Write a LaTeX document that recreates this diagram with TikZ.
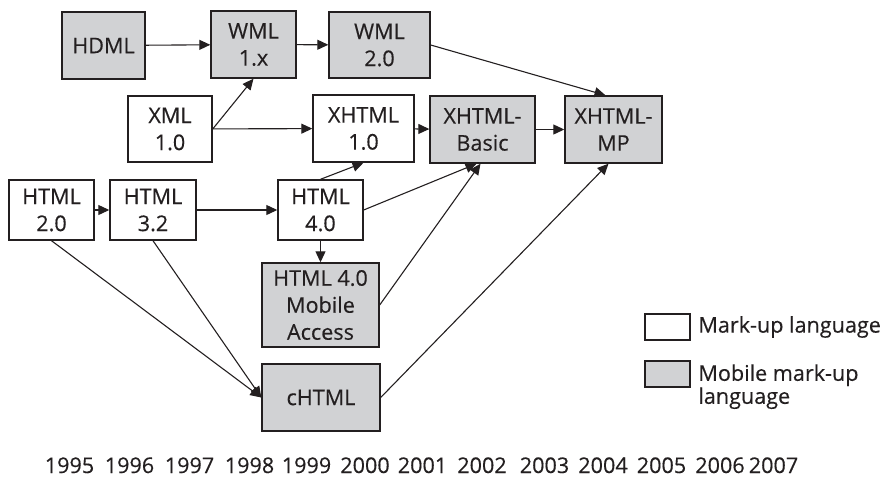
\documentclass[tikz,border=0pt]{standalone}
\usepackage{fontspec}
\setmainfont{Open Sans}[FakeBold=0.35]
\usetikzlibrary{arrows.meta, positioning}
\definecolor{mobgray}{RGB}{209,210,212}
\definecolor{ink}{RGB}{35,31,32}

\begin{document}
\begin{tikzpicture}[x=0.5pt, y=-0.5pt,
  every node/.style={font=\fontsize{10.8}{13.5}\selectfont, text=ink},
  lang/.style={draw=ink, line width=0.7pt, fill=white, align=center, inner sep=0pt},
  mob/.style={lang, fill=mobgray},
  arr/.style={-{Triangle[length=5.5pt, width=5pt]}, draw=ink, line width=0.55pt}
]
\useasboundingbox (0,0) rectangle (885,477);
\node[mob,  minimum width=41.5pt, minimum height=33.5pt] (HDML)  at (103.5,45.5) {HDML};
\node[mob,  minimum width=42.5pt, minimum height=33.5pt] (WMLa)  at (253.5,44.5) {WML\\1.x};
\node[mob,  minimum width=50.5pt, minimum height=33pt]   (WMLb)  at (379.5,45)   {WML\\2.0};
\node[lang, minimum width=42pt,   minimum height=33pt]   (XML)   at (170,129)    {XML\\1.0};
\node[lang, minimum width=50.5pt, minimum height=33.5pt] (XHTML) at (363.5,128.5) {XHTML\\1.0};
\node[mob,  minimum width=52.5pt, minimum height=33.5pt] (XBasic) at (482.5,129.5) {XHTML-\\Basic};
\node[mob,  minimum width=48.5pt, minimum height=33.5pt] (XMP)   at (613.5,129.5) {XHTML-\\MP};
\node[lang, minimum width=42.5pt, minimum height=30pt]   (HTMLa) at (51.5,210)   {HTML\\2.0};
\node[lang, minimum width=43pt,   minimum height=30pt]   (HTMLb) at (153,210)    {HTML\\3.2};
\node[lang, minimum width=42.5pt, minimum height=30pt]   (HTMLc) at (320.5,210)  {HTML\\4.0};
\node[mob,  minimum width=58.5pt, minimum height=42pt]   (HTMLmob) at (320.5,305) {HTML 4.0\\Mobile\\Access};
\node[mob,  minimum width=59pt,   minimum height=33.5pt] (cHTML) at (321,397.5)  {cHTML};

\draw[arr] (HDML) -- (WMLa);
\draw[arr] (WMLa) -- (WMLb);
\draw[arr] (WMLb.east) -- ([xshift=-4pt]XMP.north);
\draw[arr] (XML.east) -- (WMLa.south);
\draw[arr] (XML) -- (XHTML);
\draw[arr] (XHTML) -- (XBasic);
\draw[arr] (XBasic) -- (XMP);
\draw[arr] (HTMLa) -- (HTMLb);
\draw[arr] (HTMLb) -- (HTMLc);
\draw[arr] (HTMLc.north) -- (XHTML.south);
\draw[arr] (HTMLc.east) -- ([xshift=-3pt]XBasic.south);
\draw[arr] (HTMLc) -- (HTMLmob);
\draw[arr] (HTMLmob.east) -- ([xshift=-1pt]XBasic.south);
\draw[arr] (HTMLa.south) -- (cHTML.west);
\draw[arr] (HTMLb.south) -- (cHTML.west);
\draw[arr] (cHTML.east) -- ([xshift=-2.5pt]XMP.south);

% legend
\node[lang, minimum width=22.5pt, minimum height=13pt] (keyA) at (667.5,327) {};
\node[mob,  minimum width=22.5pt, minimum height=13pt] (keyB) at (667.5,374) {};
\node[anchor=west, inner sep=0pt] (legA) at (698,327) {Mark-up language};
\node[anchor=north west, align=left, inner sep=0pt, font=\fontsize{10.8}{11.5}\selectfont]
  (legB) at (698,364) {Mobile mark-up\\language};

% time axis
\foreach \yr/\xx in {1995/69.5, 1996/129.5, 1997/189.5, 1998/249.5, 1999/306.5,
  2000/365, 2001/422.5, 2002/482, 2003/544.5, 2004/603, 2005/661.5, 2006/720, 2007/773.5}
  \node[anchor=base, inner sep=0pt] (y\yr) at (\xx,473) {\yr};
\end{tikzpicture}
\end{document}
